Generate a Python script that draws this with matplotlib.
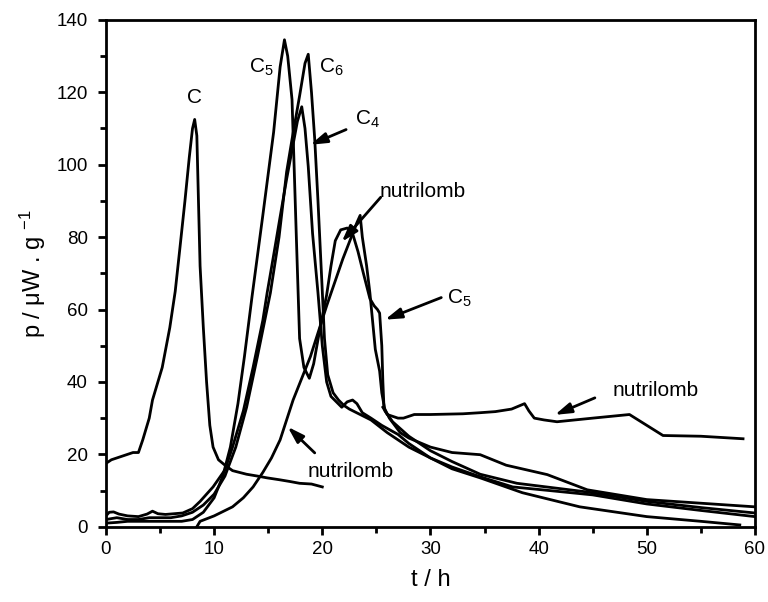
import numpy as np
import matplotlib.pyplot as plt
from matplotlib.ticker import MultipleLocator

plt.rcParams['font.family'] = ['Liberation Sans', 'DejaVu Sans']
plt.rcParams['mathtext.fontset'] = 'custom'
plt.rcParams['mathtext.rm'] = 'Liberation Sans'
plt.rcParams['mathtext.default'] = 'regular'

# control soil
t_c = [0, 0.5, 1.5, 2.5, 3.0, 3.4, 4.0, 4.3, 4.8, 5.2, 5.9, 6.4, 6.8, 7.3, 7.7, 8.0, 8.2, 8.4, 8.55, 8.7, 9.0, 9.3, 9.6, 9.9, 10.4, 11.0, 11.7, 13.0, 14.0, 14.9, 16.0, 17.0, 17.9, 19.0, 20.0]
p_c = [17.5, 18.5, 19.5, 20.5, 20.5, 24, 30, 35, 40, 44, 55, 65, 76, 90, 102, 110, 112.5, 108, 90, 72, 55, 40, 28, 22, 18.5, 17, 15.5, 14.5, 14, 13.5, 13, 12.5, 12, 11.8, 11]

# C5 (two humps)
t_c5 = [0, 1, 2, 3, 4, 5, 6, 7, 8, 9, 10, 10.8, 11.5, 12.2, 12.8, 13.5, 14.5, 15.5, 16.1, 16.5, 16.8, 17.2, 17.6, 17.9, 18.3, 18.8, 19.2, 19.8, 20.4, 20.8, 21.2, 21.7, 22.3, 22.8, 23.3, 23.8, 24.4, 24.8, 25.1, 25.3, 25.5, 25.6, 25.7, 26.2, 27.2, 28, 30, 32, 34.6, 37, 40.8, 44.5, 50, 55, 60]
p_c5 = [1, 1.2, 1.5, 1.5, 1.5, 1.5, 1.5, 1.5, 2, 4, 8, 14, 22, 34, 47, 63.5, 86, 109, 127, 134.5, 130, 118, 80, 52, 44, 41, 45, 55, 64, 72, 79, 82, 82.5, 81, 76, 70, 63, 61, 60, 59, 50, 40, 33, 30, 26, 24.5, 22, 20.5, 19.9, 17, 14.4, 10.2, 7.5, 6.5, 5.5]

# C6
t_c6 = [0, 1, 2, 3, 4, 5, 6, 7, 8, 9, 10, 11, 12, 13, 14, 15.2, 16, 16.7, 17.2, 17.9, 18.4, 18.7, 19, 19.3, 19.6, 20, 20.2, 20.5, 21, 21.5, 22, 22.5, 23.5, 24.5, 26, 28, 30, 32, 34.6, 38.5, 43.8, 50, 55, 58.6]
p_c6 = [2, 2.5, 2, 2, 2.5, 2.5, 2.5, 3, 4, 6, 9, 14, 22, 33, 47, 64.6, 80, 98, 107, 119, 128, 130.5, 120, 107, 90, 65, 52, 42, 37, 35, 33.5, 32.5, 31, 29.5, 26, 22, 19, 16, 13.5, 9.4, 5.5, 2.8, 1.5, 0.5]

# C4
t_c4 = [0, 0.3, 0.7, 1.2, 2, 3, 3.8, 4.3, 4.8, 5.5, 7.1, 8, 8.7, 9.9, 11, 11.7, 12.7, 13.6, 14.5, 14.9, 15.5, 16.1, 16.7, 17.2, 17.7, 18.1, 18.4, 18.7, 19.1, 19.6, 20, 20.4, 20.8, 21.3, 21.8, 22.3, 22.8, 23.2, 23.7, 24.5, 25.5, 27, 28, 30, 32, 34.6, 37.6, 41, 45, 50, 55, 60]
p_c4 = [3, 4, 4.1, 3.5, 3, 2.8, 3.5, 4.3, 3.6, 3.4, 3.8, 5, 7, 11, 15.7, 22, 32, 44, 57, 64.6, 75, 85.6, 96, 104, 112, 116, 110, 99.5, 81, 64.6, 50, 40, 36, 34.5, 33, 34.5, 35, 34, 31.5, 30, 28, 25.5, 23, 19, 16.5, 13.8, 11, 10, 8.8, 6.3, 4.5, 2.8]

# nutrilomb
t_nu = [8.4, 8.7, 10, 11.7, 12.7, 13.6, 14.5, 15.3, 16.1, 17.3, 18.9, 20.4, 21.9, 23.2, 23.5, 23.7, 24.1, 24.4, 24.9, 25.3, 25.5, 25.8, 26.5, 28, 30, 32, 34.6, 38, 44.5, 50, 55, 60]
p_nu = [0, 1.5, 3, 5.5, 8, 11, 15, 19, 24, 35, 47, 61, 74, 84, 86, 80, 72, 64.6, 49, 43, 37, 32, 29, 25, 21, 18, 14.5, 12, 9.6, 7, 5.3, 3.8]

# nutrilomb, late plateau
t_nl = [25.6, 26, 26.5, 27, 27.5, 28.5, 30, 33, 34.6, 36, 37.5, 38.3, 38.7, 39.1, 39.6, 40.5, 41.7, 45, 48.4, 51.5, 55, 58.9]
p_nl = [33, 31, 30.5, 30, 30, 31, 31, 31.2, 31.5, 31.8, 32.5, 33.5, 34, 32, 30, 29.5, 29, 30, 31, 25.2, 25, 24.3]

fig = plt.figure(figsize=(7.68, 6.02), dpi=100)
ax = fig.add_axes([0.138, 0.125, 0.845, 0.842])

for t, p in [(t_c, p_c), (t_c5, p_c5), (t_c6, p_c6), (t_c4, p_c4), (t_nu, p_nu), (t_nl, p_nl)]:
    ax.plot(t, p, color='black', lw=2.0, solid_joinstyle='round')

ax.set_xlim(0, 60)
ax.set_ylim(0, 140)
ax.xaxis.set_major_locator(MultipleLocator(10))
ax.xaxis.set_minor_locator(MultipleLocator(5))
ax.yaxis.set_major_locator(MultipleLocator(20))
ax.yaxis.set_minor_locator(MultipleLocator(10))
ax.tick_params(which='major', direction='out', length=6, width=2, labelsize=13.5, pad=4)
ax.tick_params(axis='y', which='major', pad=7)
ax.tick_params(which='minor', direction='out', length=4, width=2)
for s in ax.spines.values():
    s.set_linewidth(2)

ax.set_xlabel('t / h', fontsize=17, labelpad=8)
ax.set_ylabel('p / \u03bcW . g $^{-1}$', fontsize=17, labelpad=6)

fs = 15
ax.text(8.2, 118.5, 'C', fontsize=fs, ha='center', va='center')
ax.text(13.2, 127, 'C$_5$', fontsize=fs, ha='left', va='center')
ax.text(19.7, 127, 'C$_6$', fontsize=fs, ha='left', va='center')
ax.text(23.0, 112.5, 'C$_4$', fontsize=fs, ha='left', va='center')
ax.text(25.3, 92.5, 'nutrilomb', fontsize=fs, ha='left', va='center')
ax.text(31.5, 63, 'C$_5$', fontsize=fs, ha='left', va='center')
ax.text(46.8, 37.6, 'nutrilomb', fontsize=fs, ha='left', va='center')
ax.text(18.6, 15.2, 'nutrilomb', fontsize=fs, ha='left', va='center')

arr = dict(arrowstyle='-|>,head_length=0.7,head_width=0.22', color='black', lw=2,
           mutation_scale=14, shrinkA=0, shrinkB=0)
ax.annotate('', xy=(18.9, 105.5), xytext=(22.2, 109.7), arrowprops=arr)
ax.annotate('', xy=(21.8, 78.7), xytext=(25.4, 91), arrowprops=arr)
ax.annotate('', xy=(25.8, 57.2), xytext=(31, 63.3), arrowprops=arr)
ax.annotate('', xy=(41.5, 30.9), xytext=(45.2, 35.6), arrowprops=arr)
ax.annotate('', xy=(16.8, 27.6), xytext=(19.3, 20.4), arrowprops=arr)

fig.savefig('out.png', dpi=100)
